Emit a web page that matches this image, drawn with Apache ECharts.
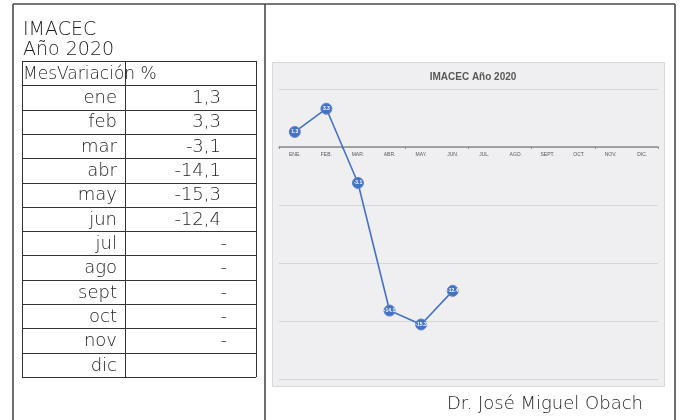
<!DOCTYPE html>
<html>
<head>
<meta charset="utf-8">
<script src="https://cdn.jsdelivr.net/npm/echarts@6/dist/echarts.min.js"></script>
<style>
  html, body { margin: 0; padding: 0; background: #ffffff; }
  #main { width: 681px; height: 420px; }
</style>
</head>
<body>
<div id="main"></div>
<script>
// Monthly IMACEC variation for 2020 (%)
const monthsTable = ['ene', 'feb', 'mar', 'abr', 'may', 'jun', 'jul', 'ago', 'sept', 'oct', 'nov', 'dic'];
const monthsAxis = ['ENE.', 'FEB.', 'MAR.', 'ABR.', 'MAY.', 'JUN.', 'JUL.', 'AGO.', 'SEPT.', 'OCT.', 'NOV.', 'DIC.'];
const variation = [1.3, 3.3, -3.1, -14.1, -15.3, -12.4, null, null, null, null, null, null];
const pendingRows = 11; // rows up to nov show a dash while no figure is published
const yTicks = { min: -20, max: 5, interval: 5 };

const FONT = '"DejaVu Sans", sans-serif';
const W = '200 ';
const INK = '#1e1e1e';

// table layout
const tbl = { left: 22, mid: 125, right: 256, top: 61, bottom: 377 };
const rowCount = monthsTable.length + 1;
const rowH = (tbl.bottom - tbl.top) / rowCount;

function cellText(v, i) {
  if (v == null) return i < pendingRows ? '-' : '';
  return v.toFixed(1).replace('.', ',');
}

const graphics = [];

// outer frame and divider
const frame = { stroke: '#4a4a4a', lineWidth: 1.6 };
graphics.push({ type: 'line', shape: { x1: 13, y1: 4, x2: 675, y2: 4 }, style: frame });
graphics.push({ type: 'line', shape: { x1: 13, y1: 4, x2: 13, y2: 420 }, style: frame });
graphics.push({ type: 'line', shape: { x1: 675, y1: 4, x2: 675, y2: 420 }, style: frame });
graphics.push({ type: 'line', shape: { x1: 265, y1: 4, x2: 265, y2: 420 }, style: frame });

// headings
graphics.push({ type: 'text', x: 23, y: 30, style: { text: 'IMACEC', font: W + '19px ' + FONT, fill: INK, textVerticalAlign: 'middle' } });
graphics.push({ type: 'text', x: 23, y: 50, style: { text: 'Año 2020', font: W + '19px ' + FONT, fill: INK, textVerticalAlign: 'middle' } });

// table grid
const thin = { stroke: '#333333', lineWidth: 1 };
for (let r = 0; r <= rowCount; r++) {
  const y = Math.round(tbl.top + r * rowH) + 0.5;
  graphics.push({ type: 'line', shape: { x1: tbl.left, y1: y, x2: tbl.right, y2: y }, style: thin });
}
[tbl.left, tbl.mid, tbl.right].forEach(function (x) {
  graphics.push({ type: 'line', shape: { x1: x + 0.5, y1: tbl.top, x2: x + 0.5, y2: tbl.bottom }, style: thin });
});

graphics.push({ type: 'text', x: 23, y: tbl.top + rowH / 2 + 1, style: { text: 'MesVariación %', font: W + '17px ' + FONT, fill: INK, textVerticalAlign: 'middle' } });

monthsTable.forEach(function (m, i) {
  const cy = tbl.top + (i + 1) * rowH + rowH / 2 + 1;
  graphics.push({ type: 'text', x: 117, y: cy, style: { text: m, font: W + '18px ' + FONT, fill: INK, textAlign: 'right', textVerticalAlign: 'middle' } });
  const t = cellText(variation[i], i);
  graphics.push({ type: 'text', x: t === '-' ? 227 : 221, y: cy, style: { text: t, font: W + '18px ' + FONT, fill: INK, textAlign: 'right', textVerticalAlign: 'middle' } });
});

// chart panel background
graphics.push({ type: 'rect', z: -10, shape: { x: 272.5, y: 62.5, width: 392, height: 324 }, style: { fill: '#efeef0', stroke: '#d9d9d9', lineWidth: 1 } });

// author
graphics.push({ type: 'text', x: 643, y: 404, style: { text: 'Dr. José Miguel Obach', font: W + '18px ' + FONT, fill: INK, textAlign: 'right', textVerticalAlign: 'middle' } });

// plot area; month labels sit just under the zero line
const grid = { left: 279, right: 23, top: 89, bottom: 41 };
const plotH = 420 - grid.top - grid.bottom;
const zeroFromBottom = plotH * (0 - yTicks.min) / (yTicks.max - yTicks.min);

const chart = echarts.init(document.getElementById('main'), null, { renderer: 'canvas' });
chart.setOption({
  animation: false,
  backgroundColor: '#ffffff',
  title: {
    text: 'IMACEC Año 2020',
    left: 468, top: 67, textAlign: 'center',
    textStyle: { fontFamily: '"Liberation Sans", Arial, sans-serif', fontSize: 10, fontWeight: 'bold', color: '#595959' }
  },
  graphic: graphics,
  grid: grid,
  xAxis: [{
    type: 'category',
    data: monthsAxis,
    boundaryGap: true,
    axisLine: { onZero: true, lineStyle: { color: '#8c8c8c', width: 1.5 } },
    axisTick: { show: true, length: 2, lineStyle: { color: '#8c8c8c' } },
    axisLabel: { show: false },
    splitLine: { show: false }
  }, {
    type: 'category',
    data: monthsAxis,
    boundaryGap: true,
    position: 'bottom',
    offset: -zeroFromBottom,
    axisLine: { show: false, onZero: false },
    axisTick: { show: false },
    axisLabel: { fontSize: 5, color: '#595959', fontFamily: '"Liberation Sans", Arial, sans-serif', margin: 5, interval: 0 },
    splitLine: { show: false }
  }],
  yAxis: {
    type: 'value',
    min: yTicks.min, max: yTicks.max, interval: yTicks.interval,
    axisLine: { show: false },
    axisTick: { show: false },
    axisLabel: { show: false },
    splitLine: { lineStyle: { color: '#d6d6d6', width: 1 } }
  },
  series: [{
    type: 'line',
    xAxisIndex: 0,
    data: variation,
    connectNulls: false,
    symbol: 'circle',
    symbolSize: 11,
    itemStyle: { color: '#4472c4', borderColor: '#5b84cc', borderWidth: 1 },
    lineStyle: { color: '#4472c4', width: 1.6 },
    label: {
      show: true, position: 'inside',
      formatter: function (p) { return p.value == null ? '' : String(p.value); },
      color: '#ffffff', fontSize: 5, fontWeight: 'bold', fontFamily: '"Liberation Sans", Arial, sans-serif'
    }
  }]
});
</script>
</body>
</html>
